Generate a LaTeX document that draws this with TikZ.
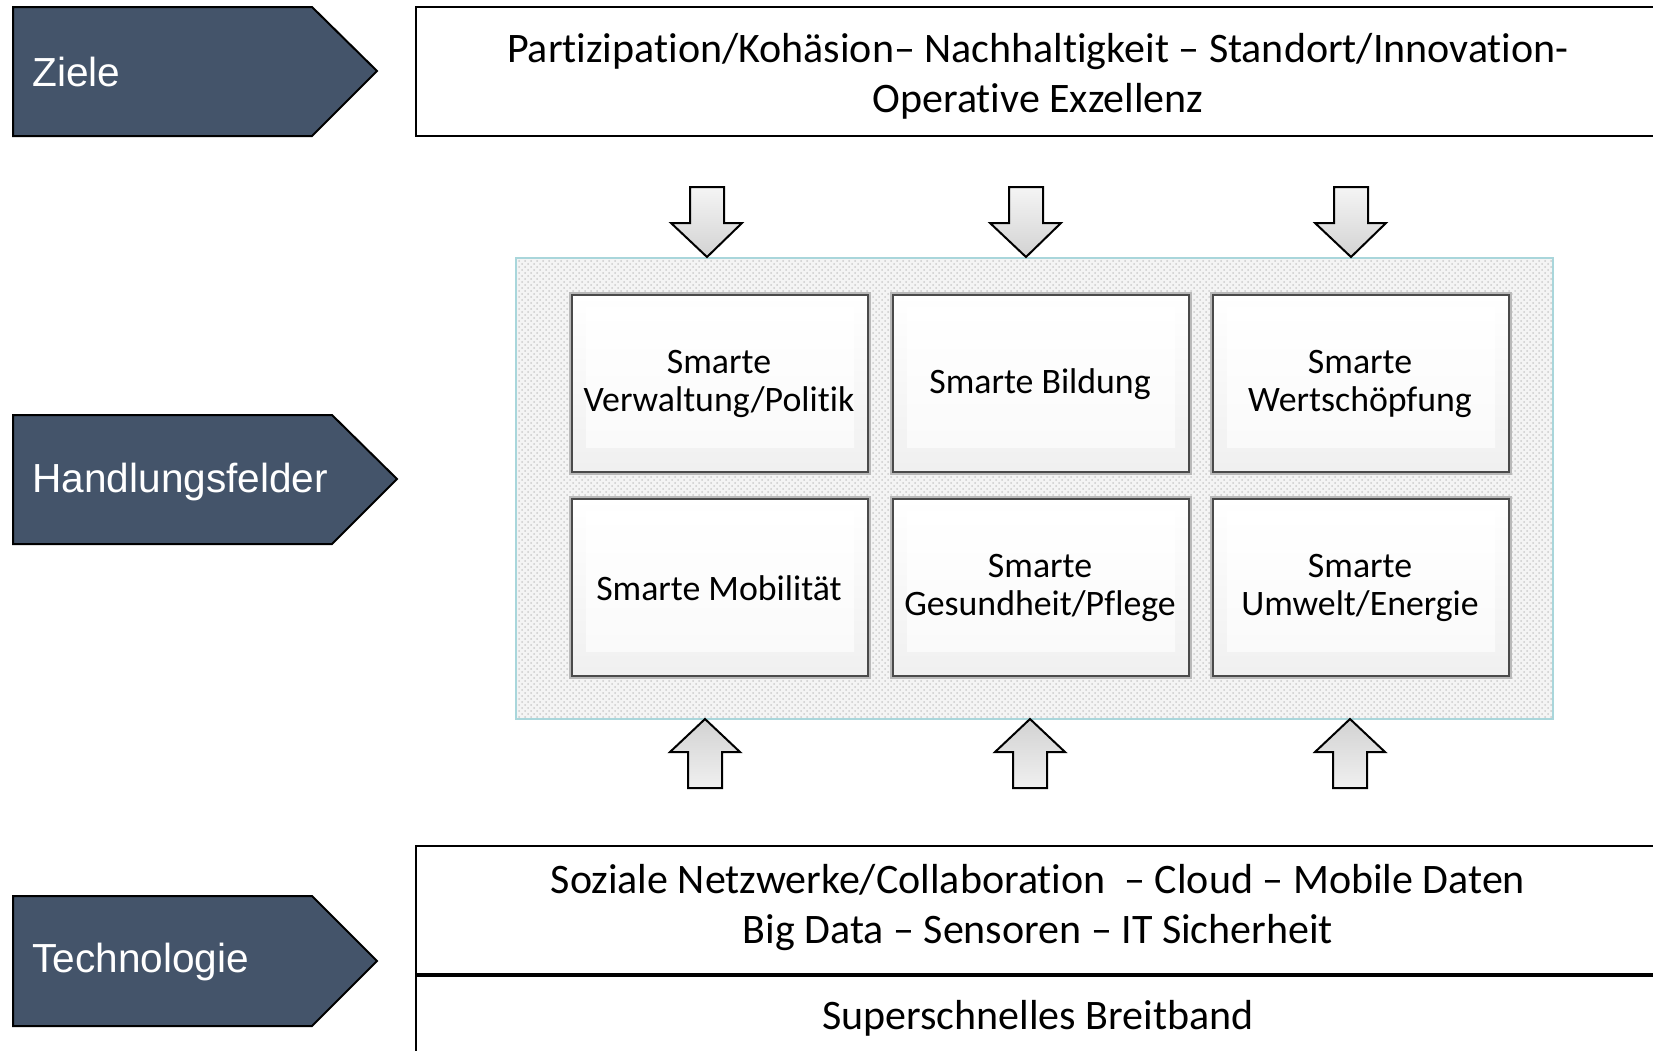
\documentclass[tikz,border=0pt]{standalone}
\usepackage{fontspec}
\setmainfont[Ligatures=NoCommon]{Carlito}
\newfontfamily\arialfont{Liberation Sans}
\usetikzlibrary{patterns}
\definecolor{navy}{HTML}{44546A}
\definecolor{hatchbd}{HTML}{A9D6DB}
\definecolor{btnbd}{HTML}{4A4A4A}
\begin{document}
\begin{tikzpicture}[x=0.5pt,y=-0.5pt,
  chev/.style={fill=navy,draw=black,line width=1pt},
  chevtext/.style={font=\arialfont\fontsize{20.3}{24}\selectfont,text=white,anchor=west,inner sep=0pt},
  boxline/.style={draw=black,line width=1pt},
  bigtext/.style={font=\fontsize{21}{25}\selectfont,align=center,inner sep=0pt},
  btntext/.style={font=\fontsize{17.9}{19}\selectfont,align=center,inner sep=0pt},
  btnshadow/.style={draw=gray!55,line width=3pt},
  btn/.style={draw=btnbd,line width=1.4pt,top color=white,bottom color=gray!12},
  btnin/.style={draw=none,top color=white,bottom color=gray!4},
  downarr/.style={draw=black,line width=1pt,top color=gray!8,bottom color=gray!35},
  uparr/.style={draw=black,line width=1pt,top color=gray!35,bottom color=gray!12}]
\useasboundingbox (0,0) rectangle (1653,1050);
\clip (0,0) rectangle (1653,1050);

% left chevrons
\draw[chev] (13,7) -- (312,7) -- (377,71) -- (312,136) -- (13,136) -- cycle;
\node[chevtext] (ziele) at (32,72) {Ziele};
\draw[chev] (13,415) -- (332,415) -- (397,479) -- (332,544) -- (13,544) -- cycle;
\node[chevtext] (hand) at (32,482) {Handlungsfelder};
\draw[chev] (13,896) -- (312,896) -- (377,961) -- (312,1026) -- (13,1026) -- cycle;
\node[chevtext] (tech) at (32,962) {Technologie};

% top box
\draw[boxline] (416,7) rectangle (1662,136);
\node[bigtext] (zieltext) at (1038,76) {Partizipation/Kohäsion– Nachhaltigkeit – Standort/Innovation-\\Operative Exzellenz};

% bottom boxes
\draw[boxline] (416,846) rectangle (1662,1060);
\draw[draw=black,line width=1.6pt] (416,975) -- (1662,975);
\node[bigtext] (techtext) at (1038,908) {Soziale Netzwerke/Collaboration\ \ – Cloud – Mobile Daten\\Big Data – Sensoren – IT Sicherheit};
\node[bigtext] (bb) at (1038,1018) {Superschnelles Breitband};

% patterned field
\draw[draw=hatchbd,line width=1pt,fill=gray!9] (516,258) rectangle (1553,719);
\fill[pattern=crosshatch dots,pattern color=gray!40] (517,259) rectangle (1552,718);

% buttons
\foreach \xa/\ya/\nm/\txt in {
  572/295/b1/{Smarte\\Verwaltung/Politik},
  893/295/b2/{Smarte Bildung},
  1213/295/b3/{Smarte\\Wertschöpfung},
  572/499/b4/{Smarte Mobilität},
  893/499/b5/{Smarte\\Gesundheit/Pflege},
  1213/499/b6/{Smarte\\Umwelt/Energie}}{
  \draw[btnshadow] (\xa,\ya) rectangle ++(296,177);
  \draw[btn] (\xa,\ya) rectangle ++(296,177);
  \fill[btnin] (\xa+14,\ya+12) rectangle ++(268,140);
  \node[btntext] (\nm) at (\xa+147,\ya+89) {\txt};
}

% down arrows
\foreach \c in {707,1026,1351}{
  \draw[downarr] (\c-17,187) -- (\c+17,187) -- (\c+17,223) -- (\c+35,223)
     -- (\c,257) -- (\c-36,223) -- (\c-17,223) -- cycle;
}
% up arrows
\foreach \c in {705,1030,1350}{
  \draw[uparr] (\c,719) -- (\c+35,752) -- (\c+17,752) -- (\c+17,788)
     -- (\c-17,788) -- (\c-17,752) -- (\c-35,752) -- cycle;
}
\end{tikzpicture}
\end{document}
